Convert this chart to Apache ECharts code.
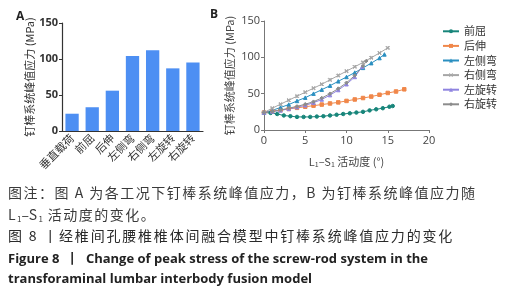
<!DOCTYPE html>
<html><head><meta charset="utf-8">
<script src="https://cdn.jsdelivr.net/npm/echarts@6/dist/echarts.min.js"></script>
<style>html,body{margin:0;padding:0;background:#fff}#c{width:517px;height:300px}</style>
</head><body><div id="c"></div>
<script>
// Panel A
const barCategories = ['垂直载荷','前屈','后伸','左侧弯','右侧弯','左旋转','右旋转'];
const barValues = [24, 33, 56, 104, 112, 87, 95];
const yTicksA = [0, 50, 100, 150];
// Panel B  [ROM (deg), stress (MPa)]
const seriesNames = ['前屈','后伸','左侧弯','右侧弯','左旋转','右旋转'];
const qianqu = [[0,24],[0.8,23.5],[1.6,22],[2.4,20],[3.2,19],[4,18],[4.8,18],[5.6,18],[6.4,18.5],[7.2,19],[8,20],[8.8,21],[9.6,22],[10.4,23],[11.2,24],[12,25],[12.8,27],[13.6,28.5],[14.4,30],[15.2,32],[15.6,33]];
const houshen = [[0,24],[1,26],[2,27.5],[3,29],[4,30.5],[5,32],[6,33.5],[7,35],[8,36.5],[9,38],[10,40],[11,42],[12,44],[13,46],[14,48.5],[15,51],[16,53],[17,56]];
const zuoCewan = [[0,24],[1,27],[2,31],[3,35],[4,40],[5,44.5],[6,50],[7,55.5],[8,61],[9,67],[10,73],[11,79],[12,85.5],[13,92],[14,99],[14.6,104]];
const youCewan = [[0,24],[1,30],[2,35.5],[3,41],[4,46.5],[5,52],[6,57.5],[7,63],[8,69],[9,75],[10,81],[11,87],[12,93],[13,99.5],[14,106],[15,113]];
const zuoXuanzhuan = [[0,24],[1,25.5],[2,27],[3,29],[4,31.5],[5,34],[6,37.5],[7,42],[8,48],[9,55],[10,63],[11,73],[11.9,87]];
const youXuanzhuan = [[0,24],[1,25.5],[2,27.5],[3,30],[4,32.5],[5,35.5],[6,39],[7,44],[8,50],[9,57],[10,65],[11,75],[12,88],[12.4,95]];
const xTicksB = [0, 5, 10, 15, 20];
const captionLines = [
  '图注：图 A 为各工况下钉棒系统峰值应力，B 为钉棒系统峰值应力随',
  '活动度的变化。',
  '图 8 丨经椎间孔腰椎椎体间融合模型中钉棒系统峰值应力的变化',
  'Figure 8  丨  Change of peak stress of the screw-rod system in the',
  'transforaminal lumbar interbody fusion model'
];

const chart = echarts.init(document.getElementById('c'));
const lineData = [qianqu, houshen, zuoCewan, youCewan, zuoXuanzhuan, youXuanzhuan];
const lineColors = ['#17857a','#f0874a','#2a8fc0','#a6a6a6','#8f84e0','#8c8c8c'];
const crossPath = 'path://M1.5,0L5,3.5L8.5,0L10,1.5L6.5,5L10,8.5L8.5,10L5,6.5L1.5,10L0,8.5L3.5,5L0,1.5Z';
const symbols = ['circle','rect','triangle',crossPath,'triangle','diamond'];
const cjk = '"Noto Sans CJK SC", sans-serif';
const latin = '"Open Sans", "Noto Sans", sans-serif';

// spaced text: each character as its own rich token with right padding
function spaced(str, style) {
  return Array.from(str).map(ch => '{' + style + '|' + ch + '}').join('');
}

chart.setOption({
  animation: false,
  textStyle: {fontFamily: cjk},
  grid: [
    {left: 62, top: 23, width: 141, height: 108},
    {left: 264, top: 21, width: 165, height: 109}
  ],
  legend: {
    orient: 'vertical', left: 437, top: 20, itemGap: 2, itemWidth: 16, itemHeight: 5,
    textStyle: {fontSize: 11, color: '#333', fontFamily: cjk, lineHeight: 12.6},
    data: seriesNames
  },
  xAxis: [
    {gridIndex: 0, type: 'category', data: barCategories,
     axisLine: {lineStyle: {color: '#333', width: 1.2}},
     axisTick: {alignWithLabel: true, length: 3, lineStyle: {color: '#333'}},
     axisLabel: {rotate: 45, fontSize: 11, color: '#333', margin: 5, interval: 0}},
    {gridIndex: 1, type: 'value', min: 0, max: 20, interval: 5,
     name: '{n|L}{s|1}{n|–S}{s|1}{n| 活动度 (°)}', nameLocation: 'middle', nameGap: 25,
     nameTextStyle: {rich: {n: {fontSize: 11, color: '#444', fontFamily: cjk}, s: {fontSize: 7, color: '#444', verticalAlign: 'bottom', padding: [6,0,0,0]}}},
     splitLine: {show: false},
     axisLine: {lineStyle: {color: '#777', width: 1}},
     axisTick: {length: 3, lineStyle: {color: '#777'}},
     axisLabel: {fontSize: 11, color: '#444', margin: 5, fontFamily: latin}}
  ],
  yAxis: [
    {gridIndex: 0, type: 'value', min: 0, max: 150, interval: 50,
     name: '钉棒系统峰值应力 (MPa)', nameLocation: 'middle', nameGap: 22,
     nameTextStyle: {fontSize: 11, color: '#333'},
     splitLine: {show: false},
     axisLine: {show: true, lineStyle: {color: '#333', width: 1.2}},
     axisTick: {show: true, length: 3, lineStyle: {color: '#333'}},
     axisLabel: {fontSize: 11, color: '#333', fontWeight: 'bold', margin: 4, fontFamily: latin}},
    {gridIndex: 1, type: 'value', min: 0, max: 150, interval: 50,
     name: '钉棒系统峰值应力 (MPa)', nameLocation: 'middle', nameGap: 29,
     nameTextStyle: {fontSize: 11, color: '#444'},
     splitLine: {show: false},
     axisLine: {show: true, lineStyle: {color: '#777', width: 1}},
     axisTick: {show: true, length: 3, lineStyle: {color: '#777'}},
     axisLabel: {fontSize: 11, color: '#444', margin: 4, fontFamily: latin}}
  ],
  series: [
    {type: 'bar', xAxisIndex: 0, yAxisIndex: 0, data: barValues, barWidth: '66%',
     itemStyle: {color: '#4d8ff3'}}
  ].concat(lineData.map((d, i) => ({
    type: 'line', name: seriesNames[i], xAxisIndex: 1, yAxisIndex: 1, data: d,
    symbol: symbols[i], symbolSize: 3.5, showSymbol: true,
    lineStyle: {color: lineColors[i], width: 1}, itemStyle: {color: lineColors[i], borderColor: lineColors[i]}
  }))),
  graphic: [
    {type: 'text', left: 16, top: 11, style: {text: 'A', font: 'bold 12px ' + latin, fill: '#222'}},
    {type: 'text', left: 210, top: 9, style: {text: 'B', font: 'bold 12px ' + latin, fill: '#222'}},
    {type: 'text', left: 8, top: 186, style: {text: spaced(captionLines[0], 'c'),
      rich: {c: {font: '14px ' + cjk, fill: '#3a3a3a', padding: [0, 1.5, 0, 0]}}}},
    {type: 'text', left: 8, top: 208, style: {
      text: '{n|L}{s|1}{n|–S}{s|1}{n| }' + spaced(captionLines[1], 'n'),
      rich: {n: {font: '14px ' + cjk, fill: '#3a3a3a', padding: [0, 1.5, 0, 0]}, s: {font: '8px ' + cjk, fill: '#3a3a3a', verticalAlign: 'bottom', padding: [8,0,0,0]}}}},
    {type: 'text', left: 8, top: 229, style: {text: spaced(captionLines[2], 'c'),
      rich: {c: {font: '14px ' + cjk, fill: '#2a2a2a', padding: [0, 1.8, 0, 0]}}}},
    {type: 'text', left: 8, top: 253, style: {text: captionLines[3], font: 'bold 13px ' + latin, fill: '#222'}},
    {type: 'text', left: 8, top: 273, style: {text: captionLines[4], font: 'bold 13px ' + latin, fill: '#222'}}
  ]
});
</script></body></html>
